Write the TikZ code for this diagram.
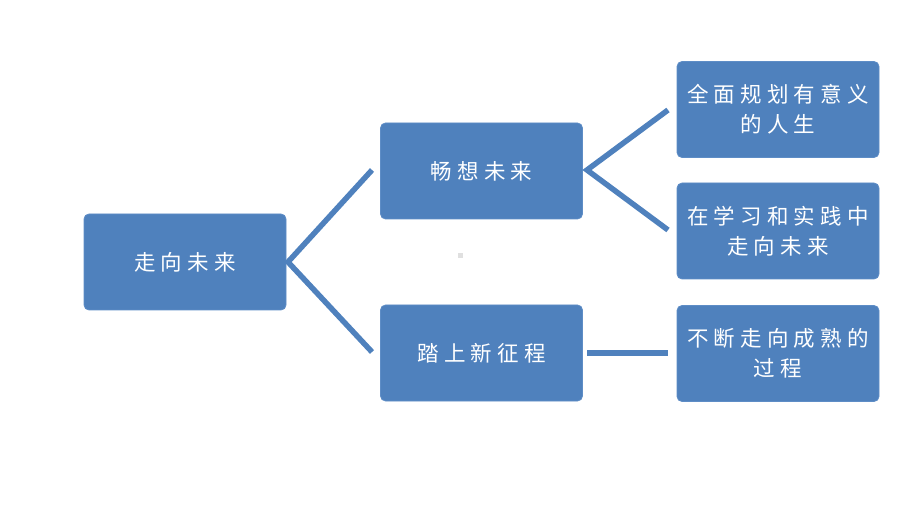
\documentclass[tikz,border=0pt]{standalone}
\usepackage{fontspec}
\newfontfamily\cjk[LetterSpace=24]{Noto Sans CJK SC}
\definecolor{boxblue}{HTML}{4F81BD}
\definecolor{edgeblue}{HTML}{5E8DC6}
\begin{document}
\begin{tikzpicture}[x=1pt,y=-1pt,
  box/.style={fill=boxblue,draw=edgeblue,line width=0.8pt,rounded corners=5pt,
    minimum width=202pt,minimum height=96pt,inner sep=0pt,text=white,
    align=center,font=\cjk\fontsize{21.5}{30}\selectfont},
  conn/.style={draw=boxblue,line width=5.5pt}]
\useasboundingbox (0,0) rectangle (920,518);
\node[box] (a) at (185,262) {走向未来};
\node[box] (b) at (481.5,171) {畅想未来};
\node[box] (c) at (481.5,353) {踏上新征程};
\node[box] (d) at (778,109.5) {全面规划有意义\\的人生};
\node[box] (e) at (778,231) {在学习和实践中\\走向未来};
\node[box] (f) at (778,353.5) {不断走向成熟的\\过程};
\coordinate (aj) at (288,262);
\coordinate (bj) at (587,170);
\draw[conn] (372,170) -- (aj) -- (372,352);
\draw[conn] (668,110) -- (bj) -- (668,230);
\draw[conn] (587,353) -- (668,353);
\fill[black!12] (457.5,253.5) rectangle (462.5,258.5);
\end{tikzpicture}
\end{document}
